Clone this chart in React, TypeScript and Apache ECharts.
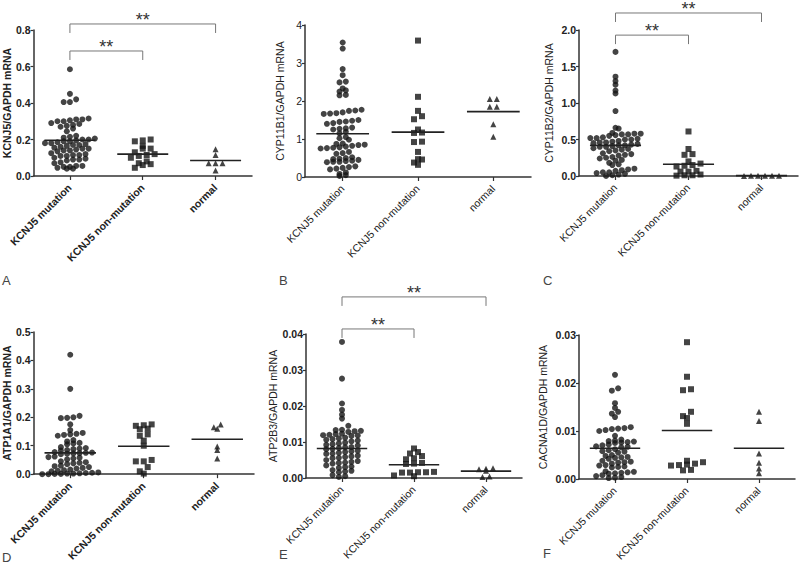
import React, { useEffect, useRef } from "react";
import * as echarts from "echarts";

// ---------------- data ----------------
const CATEGORIES = ["KCNJ5 mutation", "KCNJ5 non-mutation", "normal"];
const PANEL_LETTERS = ["A", "B", "C", "D", "E", "F"];
const Y_TITLES = [
  "KCNJ5/GAPDH mRNA",
  "CYP11B1/GAPDH mRNA",
  "CYP11B2/GAPDH mRNA",
  "ATP1A1/GAPDH mRNA",
  "ATP2B3/GAPDH mRNA",
  "CACNA1D/GAPDH mRNA",
];
const Y_MAX = [0.8, 4, 2.0, 0.5, 0.04, 0.03];
const Y_STEP = [0.2, 1, 0.5, 0.1, 0.01, 0.01];
const Y_DECIMALS = [1, 0, 1, 1, 2, 2];

// Panel A: KCNJ5
const aMutation = [
  0.585, 0.45, 0.42, 0.405, 0.405,
  0.315, 0.31, 0.31, 0.305, 0.3, 0.3,
  0.29, 0.285, 0.28, 0.275, 0.27,
  0.26, 0.245,
  0.22, 0.215, 0.21, 0.205, 0.2, 0.2, 0.195, 0.19, 0.19,
  0.185, 0.18, 0.18, 0.175, 0.17, 0.17, 0.165, 0.16,
  0.155, 0.15, 0.15, 0.145, 0.14, 0.14, 0.135,
  0.125, 0.12, 0.115, 0.115, 0.11, 0.11,
  0.1, 0.095, 0.09, 0.09, 0.085,
  0.075, 0.07,
  0.055, 0.055, 0.05, 0.05, 0.045, 0.04, 0.04,
];
const aNonMutation = [0.2, 0.195, 0.19, 0.165, 0.15, 0.15, 0.13, 0.12, 0.115, 0.11, 0.1, 0.08, 0.07, 0.065, 0.06, 0.045];
const aNormal = [0.147, 0.115, 0.07, 0.07, 0.07, 0.03];
const aMeans = [0.196, 0.12, 0.085];
const aBrackets = [[0, 1, 0.685], [0, 2, 0.833]];

// Panel B: CYP11B1
const bMutation = [
  3.54, 3.38, 2.84, 2.68, 2.51, 2.49, 2.33, 2.28, 2.25, 2.16, 2.15,
  1.77, 1.75, 1.74, 1.7, 1.68, 1.67, 1.66,
  1.5, 1.48, 1.46, 1.45, 1.42, 1.4,
  1.3, 1.28, 1.27, 1.25,
  1.19, 1.15,
  1.05, 1.02, 0.98,
  0.88, 0.87, 0.85, 0.84, 0.82, 0.8, 0.78, 0.77, 0.76, 0.75,
  0.66, 0.63, 0.61,
  0.52, 0.5, 0.48, 0.47, 0.45, 0.43, 0.42, 0.4, 0.4, 0.39,
  0.28, 0.26, 0.24, 0.22, 0.2,
  0.12, 0.08, 0.05, 0.03,
];
const bNonMutation = [3.59, 2.11, 1.74, 1.6, 1.52, 1.25, 1.17, 1.16, 0.93, 0.92, 0.66, 0.47, 0.46, 0.38, 0.32];
const bNormal = [2.05, 2.05, 1.85, 1.85, 1.39, 1.06];
const bMeans = [1.14, 1.18, 1.72];
const bBrackets: number[][] = [];

// Panel C: CYP11B2
const cMutation = [
  1.7, 1.36, 1.3, 1.25, 1.17, 1.13, 0.89,
  0.66, 0.65,
  0.59, 0.58, 0.58, 0.57, 0.57, 0.56, 0.55,
  0.53, 0.52, 0.52, 0.51, 0.5, 0.5,
  0.48, 0.47, 0.46, 0.46, 0.45, 0.44,
  0.43, 0.42, 0.42, 0.41, 0.4, 0.4,
  0.38, 0.37, 0.36, 0.35, 0.34,
  0.31, 0.3, 0.29, 0.28,
  0.26, 0.25, 0.24, 0.22, 0.21,
  0.18, 0.16, 0.15,
  0.1, 0.09, 0.08, 0.07,
  0.05, 0.05, 0.04, 0.03, 0.02, 0.01, 0.0,
];
const cNonMutation = [0.61, 0.37, 0.3, 0.29, 0.2, 0.17, 0.15, 0.14, 0.13, 0.07, 0.06, 0.06, 0.02, 0.01, 0.01, 0.005];
const cNormal = [0.004, 0.003, 0.003, 0.002, 0.002, 0.001];
const cMeans = [0.42, 0.16, 0.005];
const cBrackets = [[0, 1, 1.93], [0, 2, 2.233]];

// Panel D: ATP1A1
const dMutation = [
  0.42, 0.3, 0.205, 0.2, 0.198, 0.197, 0.175, 0.155,
  0.145, 0.142, 0.14, 0.138, 0.135,
  0.12, 0.115, 0.11, 0.108, 0.105,
  0.095, 0.092, 0.09, 0.088, 0.085, 0.083,
  0.078, 0.076, 0.075, 0.074, 0.073, 0.072, 0.07,
  0.062, 0.06, 0.058, 0.055, 0.052,
  0.045, 0.042, 0.04, 0.038, 0.035,
  0.03, 0.028, 0.025, 0.022, 0.02,
  0.016, 0.014, 0.012, 0.01,
  0.006, 0.005, 0.004, 0.003, 0.002, 0.002, 0.001, 0.001, 0.0, 0.0,
];
const dNonMutation = [0.175, 0.172, 0.17, 0.16, 0.158, 0.14, 0.135, 0.118, 0.1, 0.05, 0.045, 0.045, 0.025, 0.01, 0.002];
const dNormal = [0.175, 0.165, 0.16, 0.097, 0.085, 0.055];
const dMeans = [0.075, 0.098, 0.123];
const dBrackets: number[][] = [];

// Panel E: ATP2B3
const eMutation = [
  0.0378, 0.0276, 0.0207, 0.0189, 0.0176, 0.0165, 0.0145,
  0.0134, 0.0133, 0.0131, 0.013, 0.0128,
  0.0123, 0.0122, 0.012, 0.0119, 0.0118, 0.0117,
  0.0112, 0.011, 0.0108, 0.0106, 0.0104, 0.0102,
  0.0098, 0.0096, 0.0094, 0.0092, 0.009,
  0.0086, 0.0085, 0.0083, 0.0081, 0.008,
  0.0076, 0.0074, 0.0072, 0.007, 0.0068, 0.0067,
  0.0062, 0.006, 0.0058, 0.0056, 0.0055,
  0.005, 0.0047, 0.0045, 0.0043, 0.0042, 0.004,
  0.0035, 0.0032, 0.003, 0.0028,
  0.0022, 0.002, 0.0018, 0.0016,
  0.0008, 0.0005, 0.0003,
];
const eNonMutation = [0.0082, 0.0072, 0.0068, 0.0061, 0.0055, 0.0052, 0.0042, 0.004, 0.0039, 0.0017, 0.0016, 0.0016, 0.0015, 0.0015, 0.0007, 0.0005];
const eNormal = [0.0027, 0.0026, 0.0024, 0.002, 0.0004, 0.0003];
const eMeans = [0.0082, 0.0037, 0.0019];
const eBrackets = [[0, 1, 0.0414], [0, 2, 0.0503]];

// Panel F: CACNA1D
const fMutation = [
  0.0217, 0.0189, 0.0184, 0.0158, 0.0148, 0.014, 0.0136, 0.0129,
  0.0108, 0.0106, 0.0105, 0.0104, 0.0102, 0.01, 0.009,
  0.0082, 0.008, 0.0079, 0.0078, 0.0077, 0.0076, 0.0075,
  0.0072, 0.007, 0.0068, 0.0067, 0.0066,
  0.0062, 0.006, 0.0058, 0.0057, 0.0055,
  0.005, 0.0048, 0.0046, 0.0045, 0.0044, 0.0042,
  0.0038, 0.0036, 0.0035, 0.0034, 0.0032,
  0.0029, 0.0028, 0.0026, 0.0025, 0.0024,
  0.0016, 0.0015, 0.0014, 0.0013, 0.0012, 0.0011,
  0.0008, 0.0006, 0.0004, 0.0003, 0.0002,
];
const fNonMutation = [0.0285, 0.0213, 0.0187, 0.0185, 0.014, 0.0131, 0.0127, 0.0115, 0.0038, 0.0035, 0.0032, 0.003, 0.0029, 0.0028, 0.0019, 0.0018];
const fNormal = [0.014, 0.0121, 0.0053, 0.0034, 0.0022, 0.0012];
const fMeans = [0.0064, 0.0101, 0.0064];
const fBrackets: number[][] = [];

const GROUPS = [
  [aMutation, aNonMutation, aNormal],
  [bMutation, bNonMutation, bNormal],
  [cMutation, cNonMutation, cNormal],
  [dMutation, dNonMutation, dNormal],
  [eMutation, eNonMutation, eNormal],
  [fMutation, fNonMutation, fNormal],
];
const MEANS = [aMeans, bMeans, cMeans, dMeans, eMeans, fMeans];
const BRACKETS = [aBrackets, bBrackets, cBrackets, dBrackets, eBrackets, fBrackets];

// ---------------- layout / style ----------------
const FONT = '"Liberation Sans", Arial, Helvetica, sans-serif';
const GRID_BOXES = [
  { left: 31, top: 30, width: 221, height: 146 },
  { left: 305, top: 25, width: 226, height: 152 },
  { left: 579, top: 30, width: 219, height: 146 },
  { left: 31, top: 332, width: 223, height: 146 },
  { left: 306, top: 334, width: 216, height: 144 },
  { left: 579, top: 335, width: 216, height: 144 },
];
const NAME_GAPS = [20, 20, 25, 21, 28, 31];
const BOLD = [true, false, true, true, true, true];
const LETTER_POS = [
  [2, 274], [279, 274], [543, 274],
  [2, 551], [279, 548], [543, 547],
];
const SYMBOLS = ["circle", "rect", "triangle"];
const SYMBOL_SIZES = [6, 6, 6];
const SWARM_STEP = [6.3, 8, 7];
const BIN_PX = 5;
const INK = "#151515";
const AXIS = "#333";

function swarm(values: number[], cat: number, pxPerUnit: number, bandPx: number, step: number) {
  const bins = new Map<number, number[]>();
  values.forEach((v) => {
    const b = Math.round((v * pxPerUnit) / BIN_PX);
    if (!bins.has(b)) bins.set(b, []);
    bins.get(b)!.push(v);
  });
  const out: number[][] = [];
  bins.forEach((list) => {
    list.sort((x, y) => x - y);
    const n = list.length;
    list.forEach((v, i) => {
      out.push([cat + ((i - (n - 1) / 2) * step) / bandPx, v]);
    });
  });
  return out;
}

function buildOption() {
  const grid: any[] = [];
  const xAxis: any[] = [];
  const yAxis: any[] = [];
  const series: any[] = [];

  for (let k = 0; k < 6; k++) {
    const box = GRID_BOXES[k];
    grid.push({ ...box });
    const bold = BOLD[k] ? "bold" : "normal";
    const catBold = k === 0 || k === 3 ? "bold" : "normal";
    xAxis.push({
      gridIndex: k,
      type: "category",
      position: "bottom",
      data: CATEGORIES,
      boundaryGap: true,
      axisLine: { show: true, onZero: false, lineStyle: { color: AXIS, width: 1.5 } },
      axisTick: { show: true, alignWithLabel: true, length: 4, lineStyle: { color: AXIS, width: 1.2 } },
      axisLabel: {
        show: true,
        rotate: 45,
        interval: 0,
        hideOverlap: false,
        fontSize: 10.5,
        color: "#222",
        margin: 10,
        fontFamily: FONT,
        fontWeight: catBold,
      },
      splitLine: { show: false },
    });
    xAxis.push({ gridIndex: k, type: "value", position: "top", min: -0.5, max: 2.5, show: false });
    const dec = Y_DECIMALS[k];
    yAxis.push({
      gridIndex: k,
      type: "value",
      position: "left",
      min: 0,
      max: Y_MAX[k],
      interval: Y_STEP[k],
      axisLine: { show: true, onZero: false, lineStyle: { color: AXIS, width: 1.5 } },
      axisTick: { show: true, length: 3, lineStyle: { color: AXIS, width: 1.2 } },
      splitLine: { show: false },
      axisLabel: {
        fontSize: 10.5,
        color: "#222",
        margin: 3,
        fontFamily: FONT,
        fontWeight: bold,
        formatter: (v: number) => v.toFixed(dec),
      },
      name: Y_TITLES[k],
      nameLocation: "middle",
      nameGap: NAME_GAPS[k],
      nameTextStyle: { fontSize: 10.5, color: "#222", fontFamily: FONT, fontWeight: catBold },
    });

    const pxPerUnit = box.height / Y_MAX[k];
    const bandPx = box.width / 3;
    GROUPS[k].forEach((vals, g) => {
      series.push({
        type: "scatter",
        xAxisIndex: 2 * k + 1,
        yAxisIndex: k,
        symbol: SYMBOLS[g],
        symbolSize: SYMBOL_SIZES[g],
        itemStyle: { color: INK },
        data: swarm(vals, g, pxPerUnit, bandPx, SWARM_STEP[g]),
        silent: true,
      });
    });

    series.push({
      type: "custom",
      xAxisIndex: 2 * k + 1,
      yAxisIndex: k,
      data: MEANS[k].map((m, i) => [i, m]),
      encode: { x: 0, y: 1 },
      renderItem: (_p: any, api: any) => {
        const i = api.value(0);
        const m = api.value(1);
        const a = api.coord([i - 0.35, m]);
        const b = api.coord([i + 0.35, m]);
        return {
          type: "line",
          shape: { x1: a[0], y1: a[1], x2: b[0], y2: b[1] },
          style: { stroke: "#222", lineWidth: 1.6 },
        };
      },
      silent: true,
      z: 3,
    });

    if (BRACKETS[k].length) {
      series.push({
        type: "custom",
        xAxisIndex: 2 * k + 1,
        yAxisIndex: k,
        clip: false,
        data: BRACKETS[k],
        encode: { x: [0, 1], y: 2 },
        renderItem: (_p: any, api: any) => {
          const from = api.value(0);
          const to = api.value(1);
          const y = api.value(2);
          const a = api.coord([from, y]);
          const b = api.coord([to, y]);
          return {
            type: "group",
            children: [
              {
                type: "polyline",
                shape: { points: [[a[0], a[1] + 9], [a[0], a[1]], [b[0], b[1]], [b[0], b[1] + 9]] },
                style: { stroke: "#777", lineWidth: 1, fill: null },
              },
              {
                type: "text",
                x: (a[0] + b[0]) / 2,
                y: a[1] + 5,
                style: { text: "**", align: "center", verticalAlign: "bottom", fontSize: 18, fill: "#333", fontFamily: FONT },
              },
            ],
          };
        },
        silent: true,
      });
    }
  }

  const graphic = PANEL_LETTERS.map((t, k) => ({
    type: "text",
    left: LETTER_POS[k][0],
    top: LETTER_POS[k][1],
    style: { text: t, fontSize: 13, fill: "#444", fontFamily: FONT },
  }));

  return {
    animation: false,
    backgroundColor: "#fff",
    textStyle: { fontFamily: FONT },
    grid,
    xAxis,
    yAxis,
    series,
    graphic,
  };
}

export default function App() {
  const ref = useRef<HTMLDivElement>(null);
  useEffect(() => {
    if (!ref.current) return;
    const chart = echarts.init(ref.current, undefined, { renderer: "svg" });
    chart.setOption(buildOption() as any);
    return () => chart.dispose();
  }, []);
  return (
    <div
      ref={ref}
      style={{ position: "fixed", left: 0, top: 0, width: 800, height: 564, background: "#fff" }}
    />
  );
}
